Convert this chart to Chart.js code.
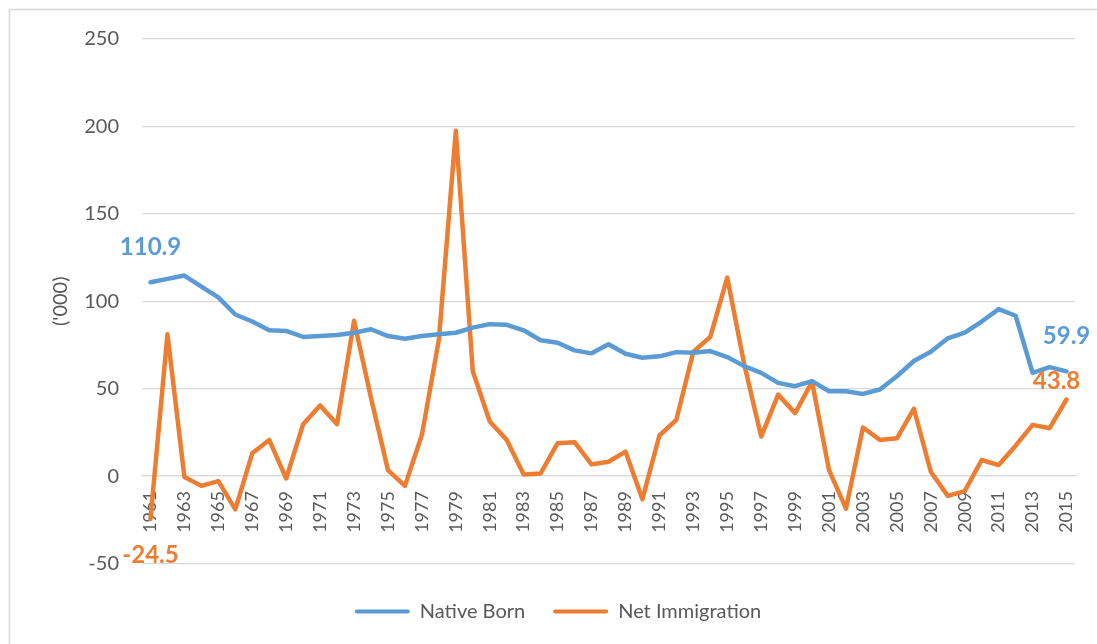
<!DOCTYPE html>
<html>
<head>
<meta charset="utf-8">
<script src="https://cdn.jsdelivr.net/npm/chart.js@4/dist/chart.umd.min.js"></script>
<style>
  html, body { margin: 0; padding: 0; background: #ffffff; }
  #wrap { width: 1097px; height: 644px; position: relative; }
</style>
</head>
<body>
<div id="wrap"><canvas id="c" width="1097" height="644"></canvas></div>
<script>
const years = [
  '1961','1962','1963','1964','1965','1966','1967','1968','1969','1970',
  '1971','1972','1973','1974','1975','1976','1977','1978','1979','1980',
  '1981','1982','1983','1984','1985','1986','1987','1988','1989','1990',
  '1991','1992','1993','1994','1995','1996','1997','1998','1999','2000',
  '2001','2002','2003','2004','2005','2006','2007','2008','2009','2010',
  '2011','2012','2013','2014','2015'
];
const nativeBorn = [
  110.9, 112.8, 114.7, 108.3, 102.2, 92.4, 88.4, 83.4, 83.0, 79.6,
  80.1, 80.7, 82.0, 84.0, 80.1, 78.6, 80.1, 81.1, 82.0, 84.9,
  86.9, 86.5, 83.4, 77.7, 76.3, 71.9, 70.2, 75.4, 70.0, 67.7,
  68.5, 70.9, 70.5, 71.5, 68.1, 62.9, 59.0, 53.3, 51.4, 54.3,
  48.5, 48.5, 47.0, 49.5, 57.1, 65.8, 71.1, 78.8, 82.0, 88.4,
  95.5, 91.7, 59.0, 62.3, 59.9
];
const netImmigration = [
  -24.5, 81.1, -0.5, -5.6, -2.9, -19.0, 13.0, 20.7, -1.4, 29.7,
  40.4, 29.7, 88.8, 44.7, 3.4, -5.6, 23.6, 78.0, 197.5, 60.0,
  31.2, 20.7, 0.9, 1.5, 18.8, 19.4, 6.7, 8.2, 14.0, -13.2,
  23.2, 32.2, 71.1, 79.6, 113.5, 64.0, 22.6, 46.6, 36.0, 53.9,
  3.4, -18.6, 27.8, 20.7, 21.6, 38.5, 2.5, -11.3, -8.6, 9.2,
  6.3, 17.4, 29.3, 27.4, 43.8
];
const seriesNames = ['Native Born', 'Net Immigration'];
const yTicks = [-50, 0, 50, 100, 150, 200, 250];
const yTitle = "('000)";

const BLUE = '#5B9BD5';
const ORANGE = '#ED7D31';
const GREY_TEXT = '#595959';
const GRID = '#d9d9d9';

// point labels: dataset index, point index, pixel offsets (style)
const pointLabels = [
  { ds: 0, idx: 0, dx: 0, dy: -35 },
  { ds: 1, idx: 0, dx: 0, dy: 36 },
  { ds: 0, idx: years.length - 1, dx: 0, dy: -35 },
  { ds: 1, idx: years.length - 1, dx: -10, dy: -18 }
];

const framePlugin = {
  id: 'frame',
  beforeDraw(chart) {
    const ctx = chart.ctx;
    ctx.save();
    ctx.fillStyle = '#ffffff';
    ctx.fillRect(0, 0, chart.width, chart.height);
    ctx.strokeStyle = GRID;
    ctx.lineWidth = 1.5;
    ctx.strokeRect(9.5, 9.5, chart.width + 20, chart.height + 20);
    ctx.restore();
  }
};

const labelPlugin = {
  id: 'pointLabels',
  afterDatasetsDraw(chart) {
    const ctx = chart.ctx;
    ctx.save();
    ctx.font = 'bold 24px Lato';
    ctx.textAlign = 'center';
    ctx.textBaseline = 'middle';
    pointLabels.forEach(p => {
      const meta = chart.getDatasetMeta(p.ds);
      const el = meta.data[p.idx];
      const v = chart.data.datasets[p.ds].data[p.idx];
      ctx.fillStyle = chart.data.datasets[p.ds].borderColor;
      ctx.fillText(v.toFixed(1), el.x + p.dx, el.y + p.dy);
    });
    ctx.restore();
  }
};

new Chart(document.getElementById('c'), {
  type: 'line',
  data: {
    labels: years,
    datasets: [
      { label: seriesNames[0], data: nativeBorn, borderColor: BLUE, backgroundColor: BLUE,
        borderWidth: 4.5, pointRadius: 0, tension: 0, borderJoinStyle: 'round', borderCapStyle: 'round' },
      { label: seriesNames[1], data: netImmigration, borderColor: ORANGE, backgroundColor: ORANGE,
        borderWidth: 4.5, pointRadius: 0, tension: 0, borderJoinStyle: 'round', borderCapStyle: 'round' }
    ]
  },
  options: {
    responsive: false,
    animation: false,
    devicePixelRatio: 1,
    layout: { padding: { left: 41, right: 22, top: 39, bottom: 12.5 } },
    plugins: {
      legend: {
        position: 'bottom',
        title: { display: true, text: '', font: { size: 10, lineHeight: 1 }, padding: { top: 0, bottom: 0 } },
        labels: {
          color: GREY_TEXT,
          font: { family: 'Lato', size: 20 },
          boxWidth: 55,
          boxHeight: 4,
          padding: 28,
          generateLabels(chart) {
            return chart.data.datasets.map((d, i) => ({
              text: d.label,
              fillStyle: d.borderColor,
              strokeStyle: d.borderColor,
              lineWidth: 0,
              fontColor: GREY_TEXT,
              datasetIndex: i,
              borderRadius: 2
            }));
          },
          useBorderRadius: true,
          borderRadius: 2
        }
      },
      tooltip: { enabled: false }
    },
    scales: {
      x: {
        type: 'category',
        position: { y: 0 },
        offset: true,
        afterFit(scale) { scale.paddingLeft = 0; scale.paddingRight = 0; },
        grid: { display: false, drawTicks: false },
        border: { display: true, color: GRID, width: 1.3 },
        ticks: {
          autoSkip: false,
          maxRotation: 90,
          minRotation: 90,
          padding: 15,
          color: GREY_TEXT,
          font: { family: 'Lato', size: 18 },
          callback(value, index) { return index % 2 === 0 ? this.getLabelForValue(value) : ''; }
        }
      },
      y: {
        min: yTicks[0],
        max: yTicks[yTicks.length - 1],
        afterBuildTicks(scale) { scale.ticks = yTicks.map(v => ({ value: v })); },
        afterFit(scale) { scale.width = 101; },
        grid: { color: GRID, lineWidth: 1.3, drawTicks: false },
        border: { display: false },
        ticks: { color: GREY_TEXT, font: { family: 'Lato', size: 20 }, padding: 23 },
        title: { display: true, text: yTitle, color: GREY_TEXT, font: { family: 'Lato', size: 20 }, padding: { top: 8, bottom: 0 } }
      }
    }
  },
  plugins: [framePlugin, labelPlugin]
});
</script>
</body>
</html>
